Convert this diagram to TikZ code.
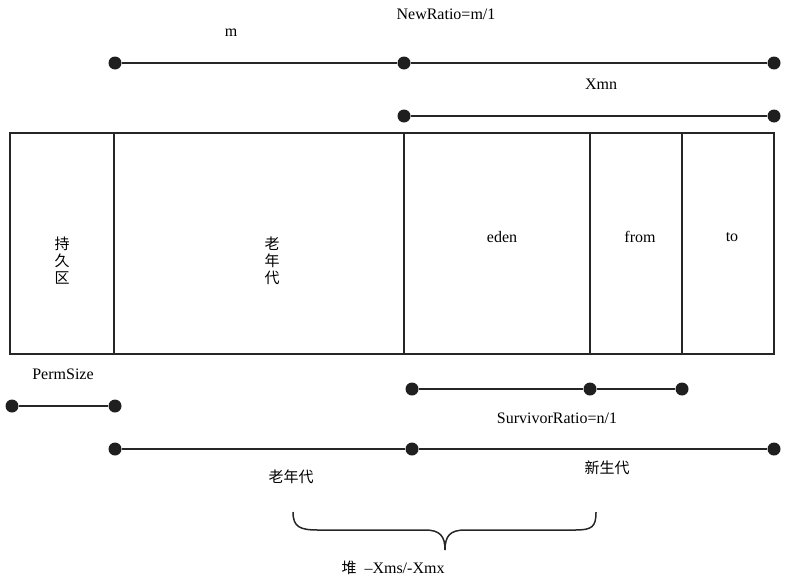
\documentclass[tikz,border=0pt]{standalone}
\usepackage{fontspec}
\setmainfont{Liberation Serif}
\newfontfamily\cjk{Noto Sans CJK SC}
\begin{document}
\begin{tikzpicture}[x=1pt, y=-1pt,
    dot/.style={circle, fill=black!88, inner sep=0pt, minimum size=13pt},
    bar/.style={line width=2pt, draw=black!85},
    part/.style={line width=1.4pt, draw=black!85},
    lbl/.style={font=\fontsize{16}{18}\selectfont, inner sep=0pt},
    zh/.style={font=\cjk\fontsize{15}{17}\selectfont, inner sep=0pt, align=center}]
  \useasboundingbox (0,0) rectangle (794,581);
  % NewRatio / Xmn
  \node[lbl] (newratio) at (446,14) {NewRatio=m/1};
  \node[lbl] (mlbl) at (231,33) {m};
  \node[dot] (m0) at (115,63) {};
  \node[dot] (m1) at (404,63) {};
  \node[dot] (m2) at (774,63) {};
  \draw[bar] (m0) -- (m1) -- (m2);
  \node[lbl] (xmn) at (601,84) {Xmn};
  \node[dot] (n0) at (404,116) {};
  \node[dot] (n1) at (774,116) {};
  \draw[bar] (n0) -- (n1);
  % memory layout
  \draw[part] (10,133) rectangle (774,354);
  \foreach \x in {114,404,590,682}
    \draw[part] (\x,133) -- (\x,354);
  \node[zh] (perm) at (62,261) {持\\久\\区};
  \node[zh] (old) at (272,261) {老\\年\\代};
  \node[lbl] (eden) at (502,237) {eden};
  \node[lbl] (from) at (640,237) {from};
  \node[lbl] (to) at (732,237) {to};
  % PermSize
  \node[lbl] (permsize) at (63,374) {PermSize};
  \node[dot] (p0) at (12,406) {};
  \node[dot] (p1) at (115,406) {};
  \draw[bar] (p0) -- (p1);
  % SurvivorRatio
  \node[dot] (s0) at (412,389) {};
  \node[dot] (s1) at (590,389) {};
  \node[dot] (s2) at (682,389) {};
  \draw[bar] (s0) -- (s1) -- (s2);
  \node[lbl] (survivor) at (557,418) {SurvivorRatio=n/1};
  % heap
  \node[dot] (h0) at (115,449) {};
  \node[dot] (h1) at (412,449) {};
  \node[dot] (h2) at (774,449) {};
  \draw[bar] (h0) -- (h1) -- (h2);
  \node[zh] (oldgen) at (291,477) {老年代};
  \node[zh] (newgen) at (607,468) {新生代};
  \draw[line width=1.5pt, black!85] (293,512) .. controls (293,527) and (300,530) .. (318,530)
    -- (425,530) .. controls (440,530) and (445,536) .. (445,550)
    .. controls (445,536) and (450,530) .. (465,530) -- (575,530)
    .. controls (592,530) and (596,527) .. (596,512);
  \node[lbl] (heap) at (393,568) {{\cjk\fontsize{15}{17}\selectfont 堆}\ \ –Xms/-Xmx};
\end{tikzpicture}
\end{document}
